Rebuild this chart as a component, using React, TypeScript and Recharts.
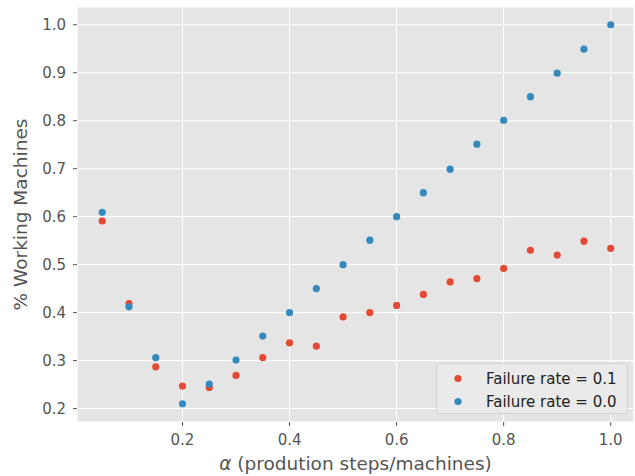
import { ScatterChart, Scatter, XAxis, YAxis, CartesianGrid, Legend } from 'recharts';

// alpha values (production steps / machines)
const alphas = [0.05, 0.1, 0.15, 0.2, 0.25, 0.3, 0.35, 0.4, 0.45, 0.5, 0.55, 0.6, 0.65, 0.7, 0.75, 0.8, 0.85, 0.9, 0.95, 1.0];
const failure01 = [0.591, 0.419, 0.287, 0.247, 0.244, 0.269, 0.306, 0.337, 0.33, 0.391, 0.4, 0.415, 0.438, 0.464, 0.471, 0.492, 0.53, 0.52, 0.549, 0.534];
const failure00 = [0.609, 0.412, 0.306, 0.21, 0.251, 0.301, 0.351, 0.4, 0.45, 0.5, 0.551, 0.6, 0.65, 0.699, 0.751, 0.801, 0.85, 0.899, 0.949, 1.0];
const seriesNames = ['Failure rate = 0.1', 'Failure rate = 0.0'];
const xTicks = [0.2, 0.4, 0.6, 0.8, 1.0];
const yTicks = [0.2, 0.3, 0.4, 0.5, 0.6, 0.7, 0.8, 0.9, 1.0];

const RED = '#E24A33';
const BLUE = '#348ABD';
const FONT = '"DejaVu Sans", sans-serif';

const redData = alphas.map((x, i) => ({ x, y: failure01[i] }));
const blueData = alphas.map((x, i) => ({ x, y: failure00[i] }));

const dot = (color: string) => (props: any) => <circle cx={props.cx} cy={props.cy} r={3.6} fill={color} />;

const renderLegend = (props: any) => {
    // keep the order of the original legend: 0.1 first, then 0.0
    const items = [...(props.payload || [])].sort(
        (a: any, b: any) => seriesNames.indexOf(a.value) - seriesNames.indexOf(b.value)
    );
    return (
        <div style={{
            width: 192, height: 51, boxSizing: 'border-box', background: 'rgba(235,235,235,0.85)',
            border: '1px solid #d2d2d2', borderRadius: 4, fontFamily: FONT, fontSize: 15, color: '#222',
            paddingTop: 3,
        }}>
            {items.map((item: any) => (
                <div key={item.value} style={{ display: 'flex', alignItems: 'center', height: 23 }}>
                    <svg width={49} height={23}>
                        <circle cx={21} cy={11.5} r={3.6} fill={item.color} />
                    </svg>
                    <span>{item.value}</span>
                </div>
            ))}
        </div>
    );
};

const YLabel = (props: any) => {
    const vb = props.viewBox;
    const cy = vb.y + vb.height / 2;
    return (
        <text x={27} y={cy} transform={`rotate(-90, 27, ${cy})`} textAnchor="middle"
            fontFamily={FONT} fontSize={18.5} fill="#555">% Working Machines</text>
    );
};

const XLabel = (props: any) => {
    const vb = props.viewBox;
    return (
        <text x={vb.x + vb.width / 2} y={470} textAnchor="middle" fontFamily={FONT} fontSize={18.5} fill="#555">
            <tspan fontStyle="italic">α</tspan> (prodution steps/machines)
        </text>
    );
};

const App = () => {
    return (
        <div style={{ position: 'absolute', left: 0, top: 0 }}>
            <ScatterChart width={635} height={476} margin={{ top: 7, right: 1, left: 0, bottom: 0 }}>
                <CartesianGrid fill="#E5E5E5" stroke="#ffffff" strokeWidth={1.1} />
                <XAxis type="number" dataKey="x" domain={[0.0029, 1.0435]} ticks={xTicks} allowDataOverflow
                    height={54} axisLine={false} tickSize={4} tickMargin={8}
                    tickLine={{ stroke: '#555' }} tick={{ fill: '#555', fontSize: 15, fontFamily: FONT }}
                    tickFormatter={(v: number) => v.toFixed(1)} label={<XLabel />} />
                <YAxis type="number" dataKey="y" domain={[0.172, 1.037]} ticks={yTicks} allowDataOverflow
                    width={77} axisLine={false} tickSize={4} tickMargin={7}
                    tickLine={{ stroke: '#555' }} tick={{ fill: '#555', fontSize: 15, fontFamily: FONT }}
                    tickFormatter={(v: number) => v.toFixed(1)} label={<YLabel />} />
                <Legend layout="vertical" verticalAlign="middle" align="center" content={renderLegend}
                    wrapperStyle={{ left: 436, top: 363, width: 192, height: 51 }} />
                <Scatter name={seriesNames[0]} data={redData} fill={RED} shape={dot(RED)} isAnimationActive={false} />
                <Scatter name={seriesNames[1]} data={blueData} fill={BLUE} shape={dot(BLUE)} isAnimationActive={false} />
            </ScatterChart>
        </div>
    );
};

export default App;
